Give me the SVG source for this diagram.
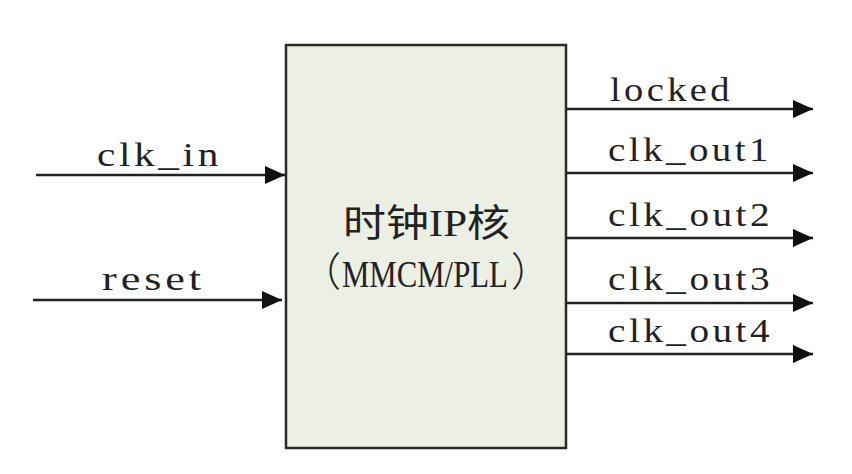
<svg xmlns="http://www.w3.org/2000/svg" width="852" height="474" viewBox="0 0 852 474">
<style>
.lbl{font-family:"Liberation Serif","DejaVu Serif",serif;font-size:34px;fill:#222;letter-spacing:3px;}
.cn{font-family:"Liberation Serif","Noto Sans CJK SC",serif;font-size:38px;fill:#222;}
.par{font-family:"Noto Sans CJK SC",sans-serif;font-size:40px;font-weight:300;fill:#222;}
.wire{stroke:#222;stroke-width:2.5;fill:none;}
</style>
<defs>
<marker id="ah" viewBox="0 0 20 18" refX="20" refY="9" markerWidth="20" markerHeight="18" markerUnits="userSpaceOnUse" orient="auto">
<path d="M0,0 L20,9 L0,18 Z" fill="#111"/>
</marker>
</defs>
<rect width="852" height="474" fill="#ffffff"/>
<g id="core">
<rect x="286" y="45" width="280" height="403" fill="#ecefe3" stroke="#2a2a2a" stroke-width="2.5"/>
<text class="cn" x="343" y="236" textLength="167" lengthAdjust="spacingAndGlyphs">时钟IP核</text>
<text class="par" x="301" y="286">（</text>
<text class="cn" transform="translate(342 287) scale(0.81 1)" x="0" y="0">MMCM/PLL</text>
<text class="par" x="511" y="286">）</text>
</g>
<g id="connectors">
<line class="wire" x1="36" y1="175" x2="285" y2="175" marker-end="url(#ah)"/>
<line class="wire" x1="33" y1="300" x2="282" y2="300" marker-end="url(#ah)"/>
<line class="wire" x1="566" y1="109" x2="813" y2="109" marker-end="url(#ah)"/>
<line class="wire" x1="566" y1="173" x2="813" y2="173" marker-end="url(#ah)"/>
<line class="wire" x1="566" y1="238" x2="813" y2="238" marker-end="url(#ah)"/>
<line class="wire" x1="566" y1="303" x2="813" y2="303" marker-end="url(#ah)"/>
<line class="wire" x1="566" y1="354" x2="813" y2="354" marker-end="url(#ah)"/>
</g>
<g id="labels">
<text class="lbl" x="97" y="166" textLength="125" lengthAdjust="spacingAndGlyphs">clk_in</text>
<text class="lbl" x="102" y="290" textLength="103" lengthAdjust="spacingAndGlyphs">reset</text>
<text class="lbl" x="610" y="101" textLength="123" lengthAdjust="spacingAndGlyphs">locked</text>
<text class="lbl" x="608" y="161" textLength="164" lengthAdjust="spacingAndGlyphs">clk_out1</text>
<text class="lbl" x="608" y="226" textLength="165" lengthAdjust="spacingAndGlyphs">clk_out2</text>
<text class="lbl" x="608" y="290" textLength="165" lengthAdjust="spacingAndGlyphs">clk_out3</text>
<text class="lbl" x="608" y="342" textLength="165" lengthAdjust="spacingAndGlyphs">clk_out4</text>
</g>
</svg>
